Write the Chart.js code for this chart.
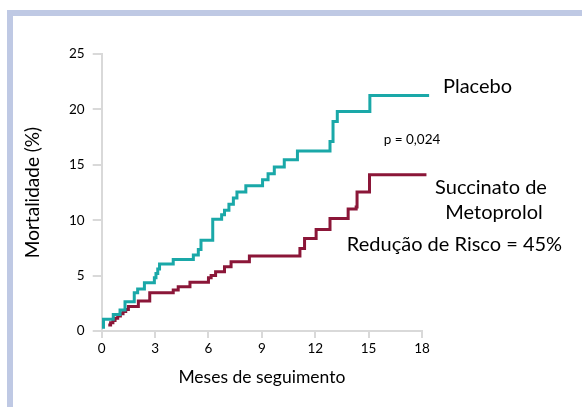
<!DOCTYPE html>
<html>
<head>
<meta charset="utf-8">
<script src="https://cdn.jsdelivr.net/npm/chart.js@4"></script>
<style>
  html, body { margin: 0; padding: 0; background: #fff; }
  body { width: 582px; height: 407px; position: relative; overflow: hidden; }
  #frame { position: absolute; left: 7px; top: 10px; right: 0; bottom: 0;
           border-top: 6px solid #BFC9E4; border-left: 6px solid #BFC9E4; }
  #c { position: absolute; left: 0; top: 0; }
</style>
</head>
<body>
<div id="frame"></div>
<canvas id="c" width="582" height="407"></canvas>
<script>
// Kaplan-Meier style cumulative mortality (%) — event times (months) and values after each event
const placeboMonths = [0.1, 0.1, 0.65, 1.03, 1.31, 1.83, 2.02, 2.4, 2.96, 3.05, 3.15, 3.25, 4.02, 5.15, 5.43, 5.58, 6.24, 6.74, 6.9, 7.15, 7.4, 7.6, 8.1, 9.04, 9.35, 9.7, 10.26, 11.0, 12.83, 13.0, 13.24, 15.07, 18.4];
const placeboValues = [0.2, 1.05, 1.5, 1.9, 2.65, 3.45, 3.8, 4.35, 4.8, 5.2, 5.6, 6.05, 6.45, 6.85, 7.35, 8.2, 10.08, 10.5, 10.9, 11.45, 12.0, 12.55, 13.1, 13.65, 14.2, 14.8, 15.45, 16.25, 17.1, 18.9, 19.8, 21.25, 21.25];

const metoprololMonths = [0.37, 0.5, 0.63, 0.75, 0.9, 1.05, 1.2, 1.35, 1.5, 2.06, 2.7, 4.02, 4.3, 4.96, 6.0, 6.15, 6.4, 6.9, 7.27, 8.3, 11.14, 11.4, 12.05, 12.83, 13.85, 14.3, 14.35, 15.05, 18.25];
const metoprololValues = [0.55, 0.75, 0.95, 1.15, 1.35, 1.55, 1.75, 1.95, 2.2, 2.7, 3.45, 3.7, 4.0, 4.4, 4.8, 5.0, 5.35, 5.8, 6.25, 6.77, 7.45, 8.35, 9.15, 10.15, 11.0, 11.2, 12.55, 14.1, 14.1];

const xTicks = [0, 3, 6, 9, 12, 15, 18];
const yTicks = [0, 5, 10, 15, 20, 25];

const seriesLabels = ['Placebo', 'Succinato de Metoprolol'];
const annotations = [
  { text: 'Placebo', x: 477.5, y: 87, size: 20 },
  { text: 'p = 0,024', x: 412, y: 140, size: 13.5 },
  { text: 'Succinato de', x: 491, y: 188, size: 20 },
  { text: 'Metoprolol', x: 494, y: 213, size: 20 },
  { text: 'Redução de Risco = 45%', x: 454.5, y: 245, size: 20 }
];

const FONT = 'Lato, "Open Sans", sans-serif';
const AXIS = '#D9D9D9';
const INK = '#000';

const toPts = (ts, vs) => ts.map((t, i) => ({ x: t, y: vs[i] }));

const textPlugin = {
  id: 'texts',
  afterDraw(chart) {
    const ctx = chart.ctx;
    ctx.save();
    ctx.fillStyle = INK;
    ctx.textAlign = 'center';
    ctx.textBaseline = 'middle';
    annotations.forEach(a => {
      ctx.font = a.size + 'px ' + FONT;
      ctx.fillText(a.text, a.x, a.y);
    });
    ctx.restore();
  }
};

new Chart(document.getElementById('c'), {
  type: 'line',
  data: {
    datasets: [
      { label: seriesLabels[0], data: toPts(placeboMonths, placeboValues),
        borderColor: '#1AA8A8', borderWidth: 3, stepped: true, pointRadius: 0, fill: false, clip: false },
      { label: seriesLabels[1], data: toPts(metoprololMonths, metoprololValues),
        borderColor: '#8B1638', borderWidth: 3, stepped: true, pointRadius: 0, fill: false, clip: false }
    ]
  },
  options: {
    responsive: false,
    animation: false,
    events: [],
    layout: { padding: { left: 20, top: 54, right: 160, bottom: 14 } },
    plugins: { legend: { display: false }, tooltip: { enabled: false } },
    scales: {
      x: {
        type: 'linear', min: 0, max: 18,
        afterFit(s) { s.height = 62; },
        afterBuildTicks(s) { s.ticks = xTicks.map(v => ({ value: v })); },
        grid: { drawOnChartArea: false, color: AXIS, lineWidth: 2, tickLength: 7 },
        border: { color: AXIS, width: 2 },
        ticks: { color: INK, font: { family: FONT, size: 13.5 }, padding: 3 },
        title: { display: true, text: 'Meses de seguimento', color: INK,
                 font: { family: FONT, size: 17.5 }, padding: { top: 0, bottom: 5 } }
      },
      y: {
        min: 0, max: 25,
        afterFit(s) { s.width = 81.7; },
        afterBuildTicks(s) { s.ticks = yTicks.map(v => ({ value: v })); },
        grid: { drawOnChartArea: false, color: AXIS, lineWidth: 2, tickLength: 9 },
        border: { color: AXIS, width: 2 },
        ticks: { color: INK, font: { family: FONT, size: 13.5 }, padding: 8 },
        title: { display: true, text: 'Mortalidade (%)', color: INK,
                 font: { family: FONT, size: 19 }, padding: { top: 1, bottom: 0 } }
      }
    }
  },
  plugins: [textPlugin]
});
</script>
</body>
</html>
